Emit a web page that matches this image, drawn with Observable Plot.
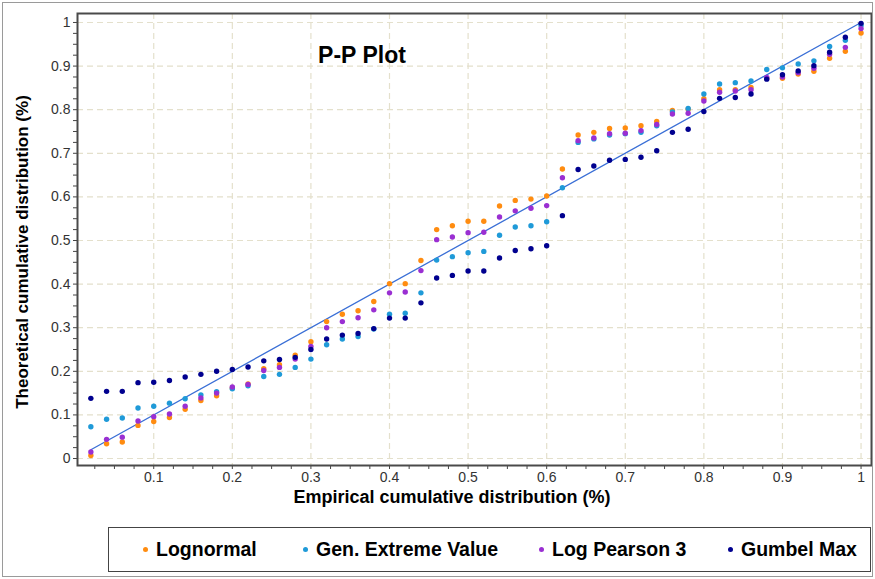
<!DOCTYPE html>
<html><head><meta charset="utf-8">
<script src="https://cdn.jsdelivr.net/npm/d3@7"></script>
<script src="https://cdn.jsdelivr.net/npm/@observablehq/plot@0.6"></script>
<style>
html,body{margin:0;padding:0;background:#fff;}
#wrap{position:relative;width:875px;height:579px;overflow:hidden;background:#fff;font-family:"Liberation Sans",Arial,sans-serif;color:#000;}
#outer{position:absolute;left:2px;top:2px;right:2px;bottom:2px;border:1px solid #9a9a9a;pointer-events:none;}
#plot{position:absolute;left:0;top:0;}
.lbl{position:absolute;white-space:nowrap;font-weight:bold;line-height:1;}
#title{left:362px;top:55px;font-size:23px;transform:translate(-50%,-50%);}
#xlab{left:452px;top:497px;font-size:18px;transform:translate(-50%,-50%);}
#ylab{left:22px;top:252px;font-size:17px;transform:translate(-50%,-50%) rotate(-90deg);}
#legend{position:absolute;left:108px;top:527px;width:761px;height:43px;border:1.5px solid #444;}
.item{position:absolute;top:0;height:43px;display:flex;align-items:center;white-space:nowrap;font-weight:bold;font-size:19.5px;}
.sw{display:inline-block;width:5px;height:5px;border-radius:50%;margin-right:8px;}
</style></head><body><div id="wrap"><div id="plot"></div><div id="outer"></div></div>
<script>
const xs = [0.02,0.04,0.06,0.08,0.10,0.12,0.14,0.16,0.18,0.20,0.22,0.24,0.26,0.28,0.30,0.32,0.34,0.36,0.38,0.40,0.42,0.44,0.46,0.48,0.50,0.52,0.54,0.56,0.58,0.60,0.62,0.64,0.66,0.68,0.70,0.72,0.74,0.76,0.78,0.80,0.82,0.84,0.86,0.88,0.90,0.92,0.94,0.96,0.98,1.00];
const lognormal = [0.007,0.034,0.038,0.076,0.085,0.094,0.113,0.133,0.144,0.162,0.171,0.206,0.215,0.237,0.268,0.314,0.331,0.339,0.360,0.401,0.401,0.454,0.525,0.534,0.544,0.544,0.579,0.592,0.595,0.602,0.664,0.742,0.748,0.757,0.758,0.763,0.773,0.798,0.801,0.825,0.846,0.846,0.851,0.872,0.872,0.882,0.888,0.918,0.934,0.976];
const genExtremeValue = [0.073,0.090,0.093,0.116,0.120,0.127,0.137,0.146,0.153,0.160,0.167,0.188,0.193,0.209,0.228,0.261,0.274,0.280,0.297,0.331,0.333,0.380,0.455,0.463,0.472,0.475,0.512,0.531,0.534,0.543,0.621,0.725,0.733,0.742,0.745,0.748,0.763,0.795,0.803,0.836,0.859,0.862,0.866,0.892,0.896,0.905,0.912,0.945,0.959,0.993];
const logPearson3 = [0.015,0.044,0.049,0.086,0.096,0.102,0.120,0.139,0.150,0.164,0.170,0.202,0.209,0.228,0.257,0.300,0.314,0.323,0.341,0.380,0.382,0.431,0.502,0.508,0.518,0.519,0.554,0.568,0.574,0.580,0.644,0.729,0.735,0.745,0.746,0.752,0.766,0.790,0.792,0.820,0.840,0.843,0.846,0.874,0.875,0.885,0.895,0.927,0.943,0.986];
const gumbelMax = [0.138,0.154,0.154,0.174,0.175,0.179,0.187,0.193,0.200,0.204,0.210,0.224,0.227,0.232,0.250,0.274,0.283,0.287,0.298,0.322,0.322,0.357,0.414,0.420,0.430,0.430,0.460,0.477,0.481,0.488,0.557,0.663,0.671,0.684,0.686,0.691,0.706,0.748,0.755,0.796,0.826,0.828,0.836,0.870,0.880,0.889,0.901,0.932,0.966,0.998];

const seriesNames = ["Lognormal","Gen. Extreme Value","Log Pearson 3","Gumbel Max"];
const seriesColors = ["#ff8c10","#1f9ad8","#9a2fd2","#00008f"];
const seriesValues = [lognormal, genExtremeValue, logPearson3, gumbelMax];

const xTicks = [0.1,0.2,0.3,0.4,0.5,0.6,0.7,0.8,0.9,1];
const xTickLabels = ["0.1","0.2","0.3","0.4","0.5","0.6","0.7","0.8","0.9","1"];
const yTicks = [0,0.1,0.2,0.3,0.4,0.5,0.6,0.7,0.8,0.9,1];
const yTickLabels = ["0","0.1","0.2","0.3","0.4","0.5","0.6","0.7","0.8","0.9","1"];
const minorTicks = d3.range(0, 41).map(i => +(i * 0.025).toFixed(3));

const titleText = "P-P Plot";
const xTitle = "Empirical cumulative distribution (%)";
const yTitle = "Theoretical cumulative distribution  (%)";

const rows = [];
seriesValues.forEach((vals, s) => vals.forEach((v, i) => rows.push({x: xs[i], y: v, series: seriesNames[s]})));
const diag = [{x: xs[0], y: xs[0]}, {x: xs[xs.length - 1], y: xs[xs.length - 1]}];

const xMap = new Map(xTicks.map((t, i) => [t, xTickLabels[i]]));
const yMap = new Map(yTicks.map((t, i) => [t, yTickLabels[i]]));

const gridStyle = {stroke: "#e4e0cc", strokeOpacity: 1, strokeWidth: 1.2, strokeDasharray: "6,4"};

const chart = Plot.plot({
  width: 875, height: 579,
  marginLeft: 77, marginTop: 13, marginRight: 4, marginBottom: 114,
  x: {domain: [0.003, 1.0133]},
  y: {domain: [-0.016, 1.0206]},
  color: {domain: seriesNames, range: seriesColors},
  style: {fontFamily: "'Liberation Sans', Arial, sans-serif", fontSize: "14px", color: "#333", background: "transparent"},
  marks: [
    Plot.gridX(xTicks, gridStyle),
    Plot.gridY(yTicks, gridStyle),
    Plot.axisX(minorTicks.filter(t => t >= 0.003), {tickSize: 4, stroke: "#444", tickFormat: () => "", label: null}),
    Plot.axisY(minorTicks, {tickSize: 4, stroke: "#444", tickFormat: () => "", label: null}),
    Plot.axisX(xTicks, {tickSize: 0, tickPadding: 7, tickFormat: d => xMap.get(d), label: null, fill: "#333"}),
    Plot.axisY(yTicks, {tickSize: 0, tickPadding: 7, tickFormat: d => yMap.get(d), label: null, fill: "#333"}),
    Plot.line(diag, {x: "x", y: "y", stroke: "#3a6fd6", strokeWidth: 1.3}),
    Plot.dot(rows, {x: "x", y: "y", fill: "series", r: 2.7}),
    Plot.frame({stroke: "#4a4a4a", strokeWidth: 2})
  ]
});
document.getElementById("plot").appendChild(chart);

const wrap = document.getElementById("wrap");
function addLabel(id, text) {
  const d = document.createElement("div");
  d.className = "lbl"; d.id = id; d.textContent = text;
  wrap.appendChild(d);
}
addLabel("title", titleText);
addLabel("xlab", xTitle);
addLabel("ylab", yTitle);

const legend = document.createElement("div");
legend.id = "legend";
const itemLeft = [34, 194, 430, 619];
seriesNames.forEach((name, i) => {
  const it = document.createElement("div");
  it.className = "item";
  it.style.left = itemLeft[i] + "px";
  const sw = document.createElement("span");
  sw.className = "sw"; sw.style.background = seriesColors[i];
  const tx = document.createElement("span");
  tx.textContent = name;
  it.appendChild(sw); it.appendChild(tx);
  legend.appendChild(it);
});
wrap.appendChild(legend);
</script>
</body></html>
